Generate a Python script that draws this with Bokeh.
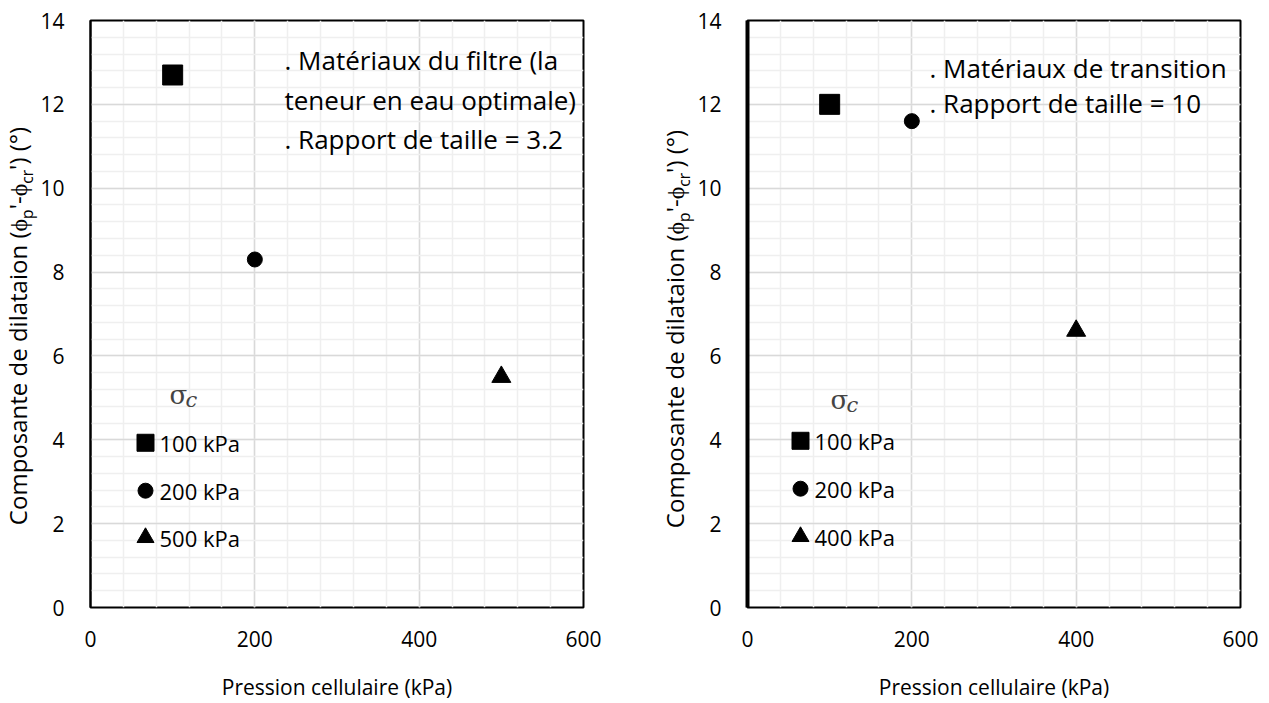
from bokeh.plotting import figure
from bokeh.models import Label, SingleIntervalTicker, Range1d, ColumnDataSource, Div
from bokeh.layouts import row
from bokeh.embed import file_html
from bokeh.resources import INLINE

FONT = "Open Sans"

# ---------------- data ----------------
left_pressure = [100, 200, 500]
left_dilatancy = [12.7, 8.3, 5.5]
right_pressure = [100, 200, 400]
right_dilatancy = [12.0, 11.6, 6.6]
point_markers = ["square", "circle", "triangle"]
left_legend = ["100 kPa", "200 kPa", "500 kPa"]
right_legend = ["100 kPa", "200 kPa", "400 kPa"]
left_note = [". Matériaux du filtre (la", "teneur en eau optimale)", ". Rapport de taille = 3.2"]
right_note = [". Matériaux de transition", ". Rapport de taille = 10"]
x_label = "Pression cellulaire (kPa)"
y_label_parts = ["Composante de dilataion (ϕ", "p", "'-ϕ", "cr", "') (°)"]
x_min, x_max, x_step = 0, 600, 200
y_min, y_max, y_step = 0, 14, 2

FW, FH = 493, 588  # frame size in px
SX = (x_max - x_min) / FW
SY = (y_max - y_min) / FH
H = 703


def lbl(p, dx, dy, text, size, **kw):
    p.add_layout(Label(x=dx * SX, y=dy * SY, text=text, text_font=FONT,
                       text_font_size=f"{size}px", text_color="black", **kw))


def ytitle_div(width, cx, cy):
    a, b, c, d, e = y_label_parts
    sub = '<sub style="font-size:65%;">'
    inner = f"{a}{sub}{b}</sub>{c}{sub}{d}</sub>{e}"
    html = (f'<div style="position:relative;width:{width}px;height:{H}px;">'
            f'<div style="position:absolute;left:{cx}px;top:{cy}px;'
            'transform:translate(-50%,-50%) rotate(-90deg);white-space:nowrap;'
            "font-family:'Open Sans';font-size:24px;color:black;line-height:1.2;\">"
            + inner + '</div></div>')
    return Div(text=html, width=width, height=H, margin=(0, 0, 0, 0))


def make_panel(px, py, legend_labels, notes, cfg, width, bl, br, yaxis_w):
    p = figure(width=width, height=H, x_range=Range1d(x_min, x_max),
               y_range=Range1d(y_min, y_max), output_backend="svg",
               toolbar_location=None, min_border_left=bl, min_border_right=br,
               min_border_top=20, min_border_bottom=H - 20 - FH)
    p.background_fill_color = "white"
    p.border_fill_color = "white"
    p.outline_line_color = "black"
    p.outline_line_width = 2
    p.xaxis.ticker = SingleIntervalTicker(interval=x_step, num_minor_ticks=5)
    p.yaxis.ticker = SingleIntervalTicker(interval=y_step, num_minor_ticks=5)
    for ax in (p.xaxis, p.yaxis):
        ax.major_tick_line_color = None
        ax.minor_tick_line_color = None
        ax.major_label_text_font = FONT
        ax.major_label_text_font_size = "21px"
        ax.major_label_text_color = "black"
    p.xaxis.axis_line_color = None
    p.yaxis.axis_line_color = "black"
    p.yaxis.axis_line_width = yaxis_w
    p.xaxis.major_label_standoff = 17
    p.yaxis.major_label_standoff = 20
    p.xaxis.axis_label = x_label
    p.xaxis.axis_label_text_font = FONT
    p.xaxis.axis_label_text_font_size = "21px"
    p.xaxis.axis_label_text_font_style = "normal"
    p.xaxis.axis_label_text_color = "black"
    p.xaxis.axis_label_standoff = 23
    for g in (p.xgrid, p.ygrid):
        g.grid_line_color = "#d9d9d9"
        g.grid_line_width = 1.5
        g.minor_grid_line_color = "#efefef"
        g.minor_grid_line_width = 1.5

    src = ColumnDataSource(dict(x=px, y=py, m=point_markers, s=[20, 15, 19]))
    p.scatter("x", "y", marker="m", size="s", source=src,
              fill_color="black", line_color="black")

    # legend block
    lx, rows, tx = cfg["leg_x"], cfg["leg_rows"], cfg["leg_tx"]
    lsrc = ColumnDataSource(dict(x=[lx * SX] * 3, y=[r * SY for r in rows],
                                 m=point_markers, s=[17, 15, 17]))
    p.scatter("x", "y", marker="m", size="s", source=lsrc,
              fill_color="black", line_color="black")
    for r, t in zip(rows, legend_labels):
        lbl(p, tx, r, t, 22, text_baseline="middle")
    sx_, sy_ = cfg["sigma"]
    p.add_layout(Label(x=sx_ * SX, y=sy_ * SY, text="σ", text_font="DejaVu Serif",
                       text_font_size="26px", text_baseline="middle"))
    p.add_layout(Label(x=(sx_ + 16) * SX, y=(sy_ - 5) * SY, text="c",
                       text_font="DejaVu Serif", text_font_style="italic",
                       text_font_size="21px", text_baseline="middle"))

    # note text
    nx = cfg["note_x"]
    for dy, t in zip(cfg["note_rows"], notes):
        lbl(p, nx, dy, t, 26, text_baseline="middle")
    return p


left_cfg = dict(leg_x=55, leg_rows=[165, 117, 70], leg_tx=69, sigma=(79, 213),
                note_x=194, note_rows=[548, 508, 469])
right_cfg = dict(leg_x=53, leg_rows=[167, 119, 71], leg_tx=67, sigma=(83, 208),
                 note_x=182, note_rows=[540, 505.5])

d1 = ytitle_div(37, 20, 326)
p1 = make_panel(left_pressure, left_dilatancy, left_legend, left_note, left_cfg,
                598, 53, 52, 2)
d2 = ytitle_div(59, 42, 329)
p2 = make_panel(right_pressure, right_dilatancy, right_legend, right_note, right_cfg,
                574, 53, 28, 4)

layout = row(d1, p1, d2, p2)
open("out.html", "w").write(file_html(layout, INLINE))
